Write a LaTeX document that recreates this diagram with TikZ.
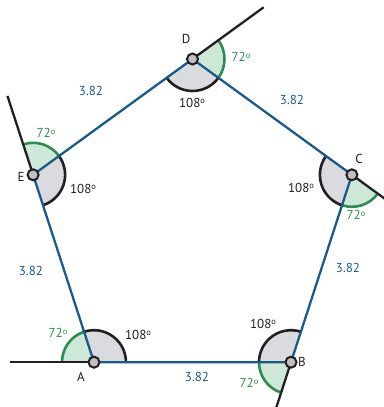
\documentclass[tikz,border=0pt]{standalone}
\usepackage{fontspec}
\setmainfont{PT Sans}
\usetikzlibrary{calc}
\definecolor{edgeblue}{RGB}{26,90,138}
\definecolor{angreen}{RGB}{46,140,82}
\definecolor{greenfill}{RGB}{206,232,216}
\definecolor{greyfill}{RGB}{218,219,222}
\definecolor{inkblack}{RGB}{35,31,32}
\definecolor{vtxfill}{RGB}{192,192,194}
\newcommand\dg{\raisebox{0.55ex}{\fontsize{8.5}{8.5}\selectfont o}}
\newcommand\angsector[5]{%
  \fill[#4] (#1) -- ($(#1)+(#2:32pt)$) arc[start angle=#2,end angle=#3,radius=32pt] -- cycle;
  \draw[#5,line width=2.6pt] ($(#1)+(#2:32pt)$) arc[start angle=#2,end angle=#3,radius=32pt];}
\begin{document}
\begin{tikzpicture}[x=1pt,y=1pt,
  side/.style={edgeblue,line width=2.3pt},
  ext/.style={inkblack,line width=2.3pt},
  vtx/.style={circle,draw=inkblack,fill=vtxfill,line width=2pt,minimum size=11pt,inner sep=0pt},
  lbl/.style={text=inkblack,font=\fontsize{13}{14}\selectfont,inner sep=0pt},
  glbl/.style={text=angreen,font=\fontsize{13}{14}\selectfont,inner sep=0pt},
  blbl/.style={text=edgeblue,font=\fontsize{13}{14}\selectfont,inner sep=0pt}]
\useasboundingbox (0,-407) rectangle (383,0);
\coordinate (O) at (192.5,-226.6);
\coordinate (D) at ($(O)+(90:167.6pt)$);
\coordinate (E) at ($(O)+(162:167.6pt)$);
\coordinate (A) at ($(O)+(234:167.6pt)$);
\coordinate (B) at ($(O)+(306:167.6pt)$);
\coordinate (C) at ($(O)+(18:167.6pt)$);
\coordinate (xA) at ($(A)+(180:84pt)$);
\coordinate (xB) at ($(B)+(252:50pt)$);
\coordinate (xC) at ($(C)+(324:45pt)$);
\coordinate (xD) at ($(D)+(36:88pt)$);
\coordinate (xE) at ($(E)+(108:83pt)$);
% sectors
\angsector{A}{0}{108}{greyfill}{inkblack}
\angsector{A}{108}{180}{greenfill}{angreen}
\angsector{B}{72}{180}{greyfill}{inkblack}
\angsector{B}{180}{252}{greenfill}{angreen}
\angsector{C}{144}{252}{greyfill}{inkblack}
\angsector{C}{252}{324}{greenfill}{angreen}
\angsector{D}{216}{324}{greyfill}{inkblack}
\angsector{D}{-36}{36}{greenfill}{angreen}
\angsector{E}{-72}{36}{greyfill}{inkblack}
\angsector{E}{36}{108}{greenfill}{angreen}
% extensions
\draw[ext] (A) -- (xA);
\draw[ext] (B) -- (xB);
\draw[ext] (C) -- (xC);
\draw[ext] (D) -- (xD);
\draw[ext] (E) -- (xE);
% sides
\draw[side] (A) -- (B) -- (C) -- (D) -- (E) -- cycle;
% vertices
\node[vtx] (vA) at (A) {};
\node[vtx] (vB) at (B) {};
\node[vtx] (vC) at (C) {};
\node[vtx] (vD) at (D) {};
\node[vtx] (vE) at (E) {};
% vertex labels
\node[lbl] (lA) at (81,-377) {A};
\node[lbl] (lB) at (302,-362) {B};
\node[lbl] (lC) at (359,-159) {C};
\node[lbl] (lD) at (186,-39) {D};
\node[lbl] (lE) at (21,-177) {E};
% angle labels
\node[lbl] (iA) at (138,-335) {108\dg};
\node[glbl] (eA) at (58,-333) {72\dg};
\node[lbl] (iB) at (263,-324) {108\dg};
\node[glbl] (eB) at (249,-383) {72\dg};
\node[lbl] (iC) at (301,-188) {108\dg};
\node[glbl] (eC) at (356,-215) {72\dg};
\node[lbl] (iD) at (192,-103) {108\dg};
\node[glbl] (eD) at (241,-57) {72\dg};
\node[lbl] (iE) at (83,-189) {108\dg};
\node[glbl] (eE) at (46,-133) {72\dg};
% side labels
\node[blbl] (sAB) at (197,-377) {3.82};
\node[blbl] (sBC) at (348,-268) {3.82};
\node[blbl] (sCD) at (292,-100) {3.82};
\node[blbl] (sDE) at (91,-91) {3.82};
\node[blbl] (sEA) at (31,-271) {3.82};
\end{tikzpicture}
\end{document}
